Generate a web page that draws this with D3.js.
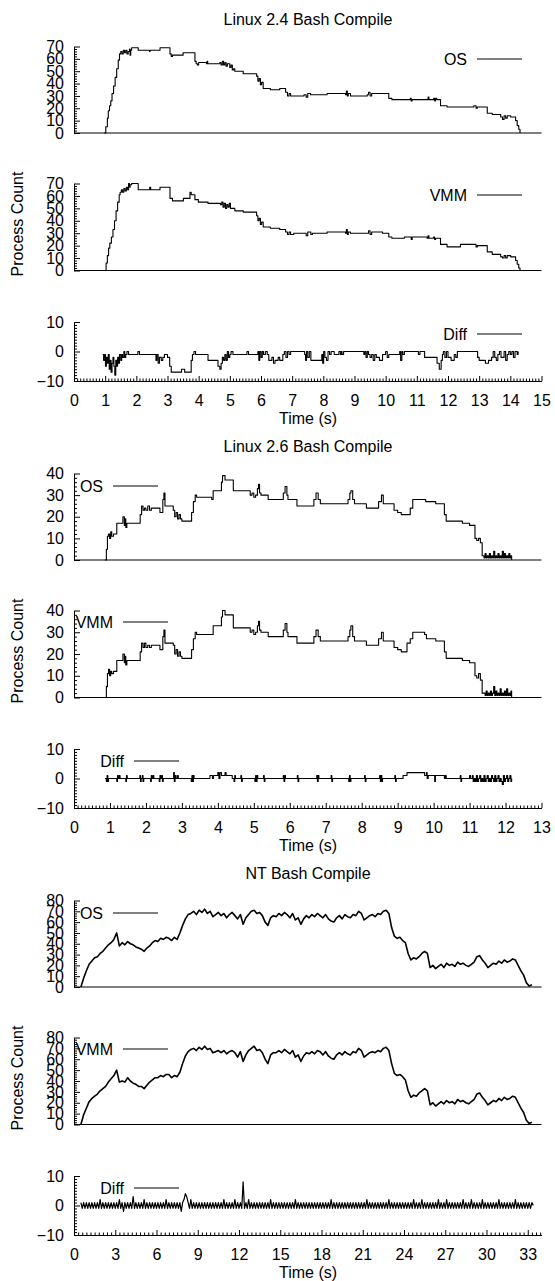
<!DOCTYPE html>
<html>
<head>
<meta charset="utf-8">
<script src="https://cdn.jsdelivr.net/npm/d3@7"></script>
<style>
  body { margin: 0; background: #fff; }
  text { font-family: "Liberation Sans", Arial, sans-serif; font-size: 16px; fill: #000; }
</style>
</head>
<body>
<svg id="fig" width="555" height="1281"></svg>
<script>
/* ---- data: [time (s), process count] ---- */

// Linux 2.4
let l24Os = [[0.97,0],[1.02,5],[1.07,12],[1.1,18],[1.14,22],[1.18,26],[1.22,32],[1.27,38],[1.32,45],[1.37,52],[1.42,59],[1.46,64],
  [1.5,66],[1.54,64],[1.58,67],[1.62,65],[1.66,67],[1.7,64],[1.74,66],[1.78,68],[1.8,63],[1.82,67],[1.85,69],
  [2.06,67],[2.4,67],[2.42,66],[2.44,67],[2.76,69],[3.08,64],[3.12,62],[3.16,63],[3.5,65],[3.88,58],[3.92,56],[3.96,55],[4.0,57],
  [4.25,56],[4.27,58],[4.29,56],[4.68,57],[4.72,55],[4.76,58],[4.8,55],[4.84,57],[4.88,54],[4.92,56],[5.0,53],[5.04,55],[5.08,51],[5.12,52],[5.16,50],
  [5.43,48],[5.86,46],[5.9,42],[5.94,44],[5.98,39],[6.02,41],[6.07,36],[6.3,35],[6.6,36],[6.79,33],[6.85,30],[6.9,32],[6.95,30],
  [7.38,31],[7.45,29],[7.5,32],[7.59,31],[8.12,32],[8.71,31],[8.74,34],[8.77,30],[8.8,32],[8.87,30],[9.41,31],[9.45,33],[9.5,30],[9.55,32],[9.62,32],
  [10.1,28],[10.2,27],[10.79,28],[10.82,26],[10.85,27],[11.33,27],[11.36,29],[11.39,27],[11.54,28],[11.57,26],[11.6,28],[11.64,27],
  [11.76,22],[11.97,21],[12.83,22],[12.9,20],[12.94,21],[13.26,16],[13.42,15],[13.69,13],[13.75,11],[13.8,14],[13.85,12],[13.9,14],
  [14.01,13],[14.17,10],[14.22,6],[14.27,3],[14.31,0]];

let l24Vmm = [[0.98,0],[1.03,6],[1.07,12],[1.11,18],[1.15,22],[1.2,27],[1.25,33],[1.3,40],[1.35,48],[1.4,55],[1.45,61],[1.48,63],
  [1.52,65],[1.56,63],[1.6,66],[1.64,64],[1.68,67],[1.72,65],[1.75,70],[1.78,67],[1.8,69],[1.85,70],[2.06,65],[2.4,65],[2.43,67],[2.46,65],
  [2.76,67],[3.08,58],[3.16,56],[3.51,58],[3.72,63],[3.76,61],[3.88,57],[3.99,55],[4.3,54],[4.7,53],[4.74,55],[4.78,51],[4.82,54],[4.86,50],
  [4.9,53],[4.94,51],[4.98,54],[5.02,50],[5.16,48],[5.43,47],[5.86,44],[5.9,40],[5.94,42],[5.98,37],[6.02,39],[6.07,35],[6.3,34],[6.6,33],
  [6.79,31],[6.85,29],[6.9,31],[6.95,29],[7.05,30],[7.38,30],[7.45,28],[7.5,31],[7.6,29],[7.65,30],[8.12,31],[8.71,30],[8.74,33],[8.77,29],
  [8.8,31],[8.87,30],[9.41,30],[9.45,32],[9.5,29],[9.55,31],[9.62,31],[9.9,30],[10.1,27],[10.2,26],[10.6,27],[10.79,27],[10.82,25],[10.85,27],
  [11.33,26],[11.36,28],[11.39,26],[11.54,27],[11.57,25],[11.6,26],[11.76,21],[11.97,19],[12.4,21],[12.83,21],[12.9,19],[12.94,20],
  [13.26,15],[13.42,13],[13.69,11],[13.75,10],[13.8,12],[13.85,10],[13.9,12],[14.01,11],[14.17,8],[14.22,5],[14.27,2],[14.31,0]];

let l24Diff = [[0.92,-1],[0.95,-3],[0.98,-1],[1.01,-5],[1.04,-2],[1.07,-4],[1.1,-1],[1.13,-6],[1.16,-3],[1.19,-7],[1.22,-4],[1.25,-2],
  [1.28,-5],[1.31,-8],[1.34,-3],[1.37,-5],[1.4,-2],[1.43,-4],[1.46,-1],[1.5,-3],[1.53,-1],[1.56,-2],[1.6,0],[1.63,-2],[1.66,-1],[1.7,0],
  [1.75,-1],[2.05,0],[2.1,-1],[2.6,-1],[2.63,-3],[2.66,-1],[2.7,-4],[2.74,-2],[2.8,-3],[2.85,-2],[2.9,-1],[3.0,-2],[3.07,-5],[3.12,-7],
  [3.45,-6],[3.55,-7],[3.76,-3],[3.8,-1],[3.85,0],[3.9,-1],[4.3,-3],[4.62,-5],[4.68,-6],[4.72,-4],[4.76,-2],[4.8,-3],[4.84,-1],[4.88,-3],
  [4.92,0],[4.96,-2],[5.0,-1],[5.04,0],[5.1,-1],[5.5,-1],[5.55,0],[5.6,-1],[5.9,0],[5.93,-3],[5.96,0],[6.0,-2],[6.04,0],[6.08,-1],
  [6.14,0],[6.2,-1],[6.25,-3],[6.35,-2],[6.4,-4],[6.45,-3],[6.55,-2],[6.6,-3],[6.7,-1],[6.75,0],[6.8,-2],[6.85,0],[6.9,-1],[6.95,0],
  [7.4,-1],[7.43,-3],[7.46,0],[7.5,-2],[7.55,0],[7.6,-3],[7.95,-1],[7.98,-4],[8.01,0],[8.05,-2],[8.1,-3],[8.15,0],[8.2,-1],[8.25,0],
  [8.35,-1],[8.5,0],[8.55,-1],[8.58,0],[8.6,-1],[8.65,0],[9.3,-1],[9.33,0],[9.37,-2],[9.41,0],[9.45,-1],[9.5,-2],[9.55,-1],[9.6,-3],
  [9.65,-1],[9.7,-2],[9.8,-3],[9.9,-1],[10.0,0],[10.05,-2],[10.1,-1],[10.45,0],[10.48,-3],[10.52,0],[10.55,-1],[10.6,0],[11.05,-1],
  [11.1,0],[11.25,-2],[11.65,-4],[11.72,-6],[11.78,-3],[11.82,-1],[11.85,0],[11.9,-2],[11.95,0],[12.0,-2],[12.1,-3],[12.2,-1],[12.25,-2],
  [12.3,0],[12.95,-2],[13.0,-3],[13.2,-4],[13.3,-3],[13.4,-2],[13.45,0],[13.5,-2],[13.55,-3],[13.6,-1],[13.65,0],[13.7,-2],[13.8,0],
  [13.85,-3],[13.9,-1],[13.95,0],[14.0,-1],[14.05,0],[14.1,-2],[14.15,0],[14.22,-1],[14.25,0]];

// Linux 2.6
let l26Os = [[0.86,0],[0.9,5],[0.93,11],[0.96,12],[0.99,10],[1.02,13],[1.05,11],[1.1,12],[1.19,17],[1.36,20],[1.4,16],[1.42,19],
  [1.44,15],[1.47,17],[1.84,21],[1.88,25],[1.92,23],[1.96,24],[2.0,23],[2.05,25],[2.1,23],[2.15,24],[2.39,22],[2.47,28],[2.5,31],
  [2.53,25],[2.76,23],[2.8,20],[2.84,22],[2.88,19],[2.92,21],[2.96,19],[3.0,18],[3.27,22],[3.32,27],[3.37,30],[3.41,29],[3.83,28],
  [3.87,32],[4.1,36],[4.13,39],[4.2,37],[4.43,32],[4.9,30],[4.95,31],[5.0,29],[5.05,30],[5.1,33],[5.13,35],[5.16,31],[5.2,30],[5.4,28],
  [5.82,31],[5.87,34],[5.92,30],[5.95,28],[6.2,25],[6.67,28],[6.73,31],[6.79,28],[6.85,26],[7.62,28],[7.67,31],[7.7,32],[7.75,28],
  [7.8,26],[8.13,24],[8.47,27],[8.55,30],[8.6,26],[8.9,23],[9.0,22],[9.1,21],[9.35,24],[9.42,28],[9.78,27],[10.06,26],[10.3,21],
  [10.35,18],[10.8,17],[11.0,16],[11.15,10],[11.2,9],[11.25,10],[11.3,8],[11.35,2],[11.4,1],[11.43,3],[11.46,1],[11.49,2],[11.52,1],
  [11.55,3],[11.58,1],[11.61,2],[11.64,1],[11.67,4],[11.7,1],[11.73,2],[11.76,1],[11.79,3],[11.82,1],[11.85,2],[11.88,1],[11.91,4],
  [11.94,1],[11.97,3],[12.0,1],[12.03,2],[12.06,1],[12.09,3],[12.12,1],[12.15,2],[12.17,0]];

let l26Vmm = [[0.86,0],[0.9,5],[0.93,11],[0.96,13],[0.99,10],[1.02,12],[1.05,11],[1.1,12],[1.19,17],[1.36,20],[1.4,16],[1.42,19],
  [1.44,15],[1.47,17],[1.84,21],[1.88,25],[1.92,23],[1.96,25],[2.0,23],[2.05,24],[2.1,23],[2.15,24],[2.39,22],[2.47,28],[2.5,31],
  [2.53,25],[2.76,24],[2.8,20],[2.84,22],[2.88,19],[2.92,21],[2.96,19],[3.0,18],[3.27,22],[3.32,27],[3.37,30],[3.41,29],[3.83,29],
  [3.87,33],[4.1,37],[4.13,40],[4.2,38],[4.43,32],[4.9,30],[4.95,31],[5.0,29],[5.05,30],[5.1,33],[5.13,35],[5.16,31],[5.2,30],[5.4,28],
  [5.82,31],[5.87,34],[5.92,30],[5.95,28],[6.2,25],[6.67,28],[6.73,31],[6.79,28],[6.85,26],[7.62,28],[7.67,31],[7.7,33],[7.75,28],
  [7.8,26],[8.13,24],[8.47,27],[8.55,30],[8.6,26],[8.9,23],[9.0,22],[9.1,21],[9.26,25],[9.35,27],[9.42,30],[9.75,29],[9.8,27],
  [10.06,26],[10.3,21],[10.35,18],[10.8,17],[11.0,16],[11.15,10],[11.2,9],[11.25,11],[11.3,8],[11.35,2],[11.4,2],[11.43,1],[11.46,3],
  [11.49,1],[11.52,2],[11.55,1],[11.58,3],[11.61,1],[11.64,2],[11.67,5],[11.7,1],[11.73,3],[11.76,1],[11.79,2],[11.82,1],[11.85,4],
  [11.88,1],[11.91,2],[11.94,1],[11.97,3],[12.0,1],[12.03,4],[12.06,1],[12.09,2],[12.12,1],[12.15,3],[12.17,0]];

let l26Diff = [[0.86,0],[0.9,-1],[0.92,1],[0.94,-1],[0.96,0],[1.19,-1],[1.21,1],[1.23,0],[1.26,1],[1.28,0],[1.44,-1],[1.46,1],[1.48,0],
  [1.83,1],[1.85,-1],[1.87,0],[1.9,1],[1.92,-1],[1.94,0],[2.13,-1],[2.15,1],[2.17,0],[2.2,1],[2.22,0],[2.37,-1],[2.39,1],[2.41,0],
  [2.44,1],[2.46,-1],[2.48,0],[2.77,2],[2.79,-1],[2.81,1],[2.84,0],[2.88,1],[2.9,0],[3.26,-1],[3.28,1],[3.3,-1],[3.32,1],[3.34,0],
  [3.78,1],[3.85,0],[3.88,1],[4.0,2],[4.03,0],[4.06,2],[4.1,1],[4.2,2],[4.23,1],[4.4,0],[4.45,-1],[4.47,1],[4.49,0],[4.64,1],[4.66,-1],
  [4.68,0],[5.03,-1],[5.05,1],[5.07,-1],[5.09,1],[5.11,0],[5.27,1],[5.29,-1],[5.31,0],[5.82,1],[5.84,-1],[5.86,1],[5.88,0],[6.21,1],
  [6.23,-1],[6.25,0],[6.75,1],[6.77,-1],[6.79,1],[6.81,0],[7.15,1],[7.17,-1],[7.19,0],[7.64,-1],[7.66,1],[7.68,-1],[7.7,0],[8.08,1],
  [8.1,-1],[8.12,0],[8.5,1],[8.52,-1],[8.54,1],[8.56,-1],[8.58,0],[8.92,1],[8.94,-1],[8.96,0],[9.15,1],[9.26,2],[9.75,1],[9.8,2],
  [9.82,0],[9.85,1],[10.03,-1],[10.05,1],[10.3,0],[10.33,1],[10.35,0],[10.74,1],[10.76,-1],[10.78,0],[11.0,1],[11.03,0],[11.08,1],
  [11.1,-1],[11.13,0],[11.16,-1],[11.19,1],[11.22,-1],[11.25,0],[11.28,1],[11.31,-1],[11.34,0],[11.37,-1],[11.4,1],[11.43,-1],[11.46,0],
  [11.49,1],[11.52,-1],[11.55,0],[11.58,-1],[11.61,1],[11.64,0],[11.67,-1],[11.7,1],[11.73,-1],[11.76,0],[11.79,1],[11.82,-1],[11.85,0],
  [11.88,-1],[11.91,-2],[11.94,1],[11.97,-1],[12.0,0],[12.03,1],[12.06,-1],[12.09,0],[12.12,1],[12.15,-1],[12.17,0]];

// NT: process counts sampled every ntStep seconds from ntStart
let ntStart = 0.5;
let ntStep = 0.2;
let ntOs = [0,8,15,21,24,27,28,31,33,36, 39,41,44,50,38,41,39,42,40,39, 37,36,35,33,36,38,41,43,42,45,
  44,46,45,43,46,44,50,57,63,67, 68,70,67,71,69,72,68,70,65,67, 69,66,68,64,67,69,66,63,67,58,
  64,67,70,71,68,69,66,60,57,64, 66,65,68,66,69,67,64,68,62,64, 58,63,66,64,67,65,68,66,64,67,
  63,61,60,64,66,63,67,65,64,67, 66,70,68,62,64,66,67,65,68,67, 70,71,68,55,47,45,46,43,41,31,
  25,27,26,28,31,33,31,18,20,17, 19,21,18,22,20,21,19,23,21,22, 20,19,21,23,28,29,25,22,18,20,
  22,21,24,22,25,23,24,26,25,20, 15,11,4,1,2];
let ntVmm = [0,9,15,21,24,26,28,31,33,35, 39,42,45,50,39,40,39,43,40,38, 37,35,35,33,36,39,41,43,43,45,
  44,46,46,43,45,44,48,56,63,67, 69,70,68,71,69,72,69,70,66,67, 68,66,68,65,67,68,66,62,67,58,
  64,68,70,72,68,69,66,60,56,64, 66,66,68,66,69,67,65,68,62,64, 58,63,66,65,67,65,68,67,64,67,
  63,61,60,64,66,64,67,65,64,67, 66,70,68,62,64,66,67,66,68,67, 70,71,68,56,47,45,46,44,41,31,
  25,27,26,29,31,33,31,18,20,17, 19,21,19,22,20,21,19,23,21,22, 20,19,21,23,28,29,25,22,18,20,
  22,21,24,22,25,23,24,26,25,20, 15,11,4,1,2];
// NT difference, sampled every ntDiffStep seconds from ntStart
let ntDiffStep = 0.1;
let ntDiff = [1,-1,1,-1,1,-1,1,-1,1,-1, 1,-1,1,-1,2,-1,1,-1,1,-1, 1,-1,1,-1,1,-1,1,-1,2,-1,
  1,-2,1,-1,1,-1,1,-1,3,-1, 1,-1,1,-1,1,-1,2,-1,1,-1, 1,-1,1,-1,1,-1,1,-1,1,-1,
  1,-1,2,-1,1,-1,1,-1,1,-1, 1,-1,1,-2,1,2,4,3,1,-1, 2,-1,1,-1,1,-1,1,-1,1,-1,
  1,-1,1,-1,1,-1,1,-1,1,-1, 1,-1,1,-1,2,-1,1,-1,1,-1, 1,-1,2,-1,1,-1,1,-1,8,-1,
  1,-1,2,-1,1,-1,1,-1,1,-1, 1,-1,1,-1,1,-1,1,-1,2,-1, 1,-1,1,-1,1,-1,1,-1,1,-1,
  1,-1,1,-1,1,-1,2,-1,1,-1, 1,-1,1,-1,1,-1,1,-1,1,-1, 1,-1,1,-1,1,-1,1,-1,1,-1,
  1,-1,2,-1,1,-1,1,-1,1,-1, 1,-1,1,-1,1,-1,1,-1,1,-1, 1,-1,1,-1,1,-1,1,-1,2,-1,
  1,-1,1,-1,1,-1,1,-1,1,-1, 1,-1,1,-1,2,-1,1,-1,1,-1, 1,-1,1,-1,1,-1,1,-1,1,-1,
  1,-1,2,-1,1,-1,1,-1,2,-1, 1,-1,1,-1,1,-1,1,-1,1,-1, 2,-1,1,-1,1,-1,2,-1,1,-1,
  1,-1,1,-1,1,-1,1,-1,2,-1, 1,-1,1,-1,2,-1,1,-1,1,-1, 1,-1,2,-1,1,-1,1,-1,1,-1,
  1,-1,1,-1,2,-1,1,-1,1,-1, 1,-1,1,-1,1,-1,2,-1,1,-1, 1,-1,1,-1,1,-1,1,-1,1,0];

let keyNames = ["OS", "VMM", "Diff"];

/* ---- layout ---- */
let chartHeight = 427;
let xLeft = 74, xRight = 541.5;
let panelRange = [[133, 46.5], [270.5, 183.5], [381, 322]];
let keyY = [59, 195, 334];

let toPairs = (arr, step) => arr.map((v, i) => [ntStart + i * step, v]);

let charts = [
  { title: "Linux 2.4 Bash Compile", xMax: 15, xTick: 1, xMinor: 0.1, yMax: 70,
    series: [l24Os, l24Vmm, l24Diff], curve: d3.curveStepAfter, widths: [1.1, 1.1, 1.1], keyEnd: [467, 467, 467] },
  { title: "Linux 2.6 Bash Compile", xMax: 13, xTick: 1, xMinor: 0.1, yMax: 40,
    series: [l26Os, l26Vmm, l26Diff], curve: d3.curveStepAfter, widths: [1.1, 1.1, 1.1], keyEnd: [103, 113, 124] },
  { title: "NT Bash Compile", xMax: 34, xTick: 3, xMinor: 0.3, yMax: 80,
    series: [toPairs(ntOs, ntStep), toPairs(ntVmm, ntStep), toPairs(ntDiff, ntDiffStep)],
    curve: d3.curveLinear, widths: [1.6, 1.6, 1.2], keyEnd: [103, 113, 124] }
];

let svg = d3.select("#fig");

function styleAxis(sel) {
  sel.attr("font-size", 16)
    .attr("font-family", '"Liberation Sans", Arial, sans-serif');
  sel.selectAll("path, line").attr("stroke", "#000");
}

charts.forEach((c, ci) => {
  let g = svg.append("g").attr("transform", `translate(0, ${ci * chartHeight})`);

  let x = d3.scaleLinear().domain([0, c.xMax]).range([xLeft, xRight]);

  g.append("text")
    .attr("x", 308).attr("y", 25)
    .attr("text-anchor", "middle")
    .text(c.title);

  g.append("text")
    .attr("transform", "translate(23, 224) rotate(-90)")
    .attr("text-anchor", "middle")
    .text("Process Count");

  c.series.forEach((data, si) => {
    let isDiff = si === 2;
    let yDomain = isDiff ? [-10, 10] : [0, c.yMax];
    let y = d3.scaleLinear().domain(yDomain).range(panelRange[si]);
    let yMajor = d3.range(yDomain[0], yDomain[1] + 0.01, 10);
    let yMinorStep = isDiff ? 1 : 2;
    let yMinor = d3.range(yDomain[0], yDomain[1] + 0.01, yMinorStep)
      .filter(v => Math.abs(v % 10) > 0.01);

    // minor y ticks (inward)
    g.append("g")
      .attr("transform", `translate(${xLeft}, 0)`)
      .call(d3.axisLeft(y).tickValues(yMinor).tickSize(-3).tickSizeOuter(0).tickFormat(""))
      .call(sel => sel.select(".domain").remove())
      .call(styleAxis);

    // major y ticks + labels
    g.append("g")
      .attr("transform", `translate(${xLeft}, 0)`)
      .call(d3.axisLeft(y).tickValues(yMajor).tickSize(-6).tickSizeOuter(0).tickPadding(10).tickFormat(d3.format("d")))
      .call(styleAxis);

    if (isDiff) {
      let xMajor = d3.range(0, c.xMax + 0.01, c.xTick);
      let xMinor = d3.range(0, c.xMax + 0.01, c.xMinor)
        .filter(v => Math.abs(v / c.xTick - Math.round(v / c.xTick)) > 0.01);
      g.append("g")
        .attr("transform", `translate(0, ${y(-10)})`)
        .call(d3.axisBottom(x).tickValues(xMinor).tickSize(-2.5).tickSizeOuter(0).tickFormat(""))
        .call(sel => sel.select(".domain").remove())
        .call(styleAxis);
      g.append("g")
        .attr("transform", `translate(0, ${y(-10)})`)
        .call(d3.axisBottom(x).tickValues(xMajor).tickSize(-5).tickSizeOuter(0).tickPadding(14).tickFormat(d3.format("d")))
        .call(styleAxis);
    } else {
      g.append("line")
        .attr("x1", xLeft).attr("x2", xRight)
        .attr("y1", y(0)).attr("y2", y(0))
        .attr("stroke", "#000").attr("stroke-width", 1.2);
    }

    let line = d3.line()
      .x(d => x(d[0]))
      .y(d => y(d[1]))
      .curve(c.curve);

    g.append("path")
      .datum(data)
      .attr("fill", "none")
      .attr("stroke", "#000")
      .attr("stroke-width", c.widths[si])
      .attr("stroke-linejoin", "round")
      .attr("d", line);

    // key
    let kx = c.keyEnd[si];
    g.append("text")
      .attr("x", kx).attr("y", keyY[si])
      .attr("dy", "0.35em")
      .attr("text-anchor", "end")
      .text(keyNames[si]);
    g.append("line")
      .attr("x1", kx + 10).attr("x2", kx + 55)
      .attr("y1", keyY[si]).attr("y2", keyY[si])
      .attr("stroke", "#000").attr("stroke-width", 1);
  });

  g.append("text")
    .attr("x", 308).attr("y", 424)
    .attr("text-anchor", "middle")
    .text("Time (s)");
});
</script>
</body>
</html>
